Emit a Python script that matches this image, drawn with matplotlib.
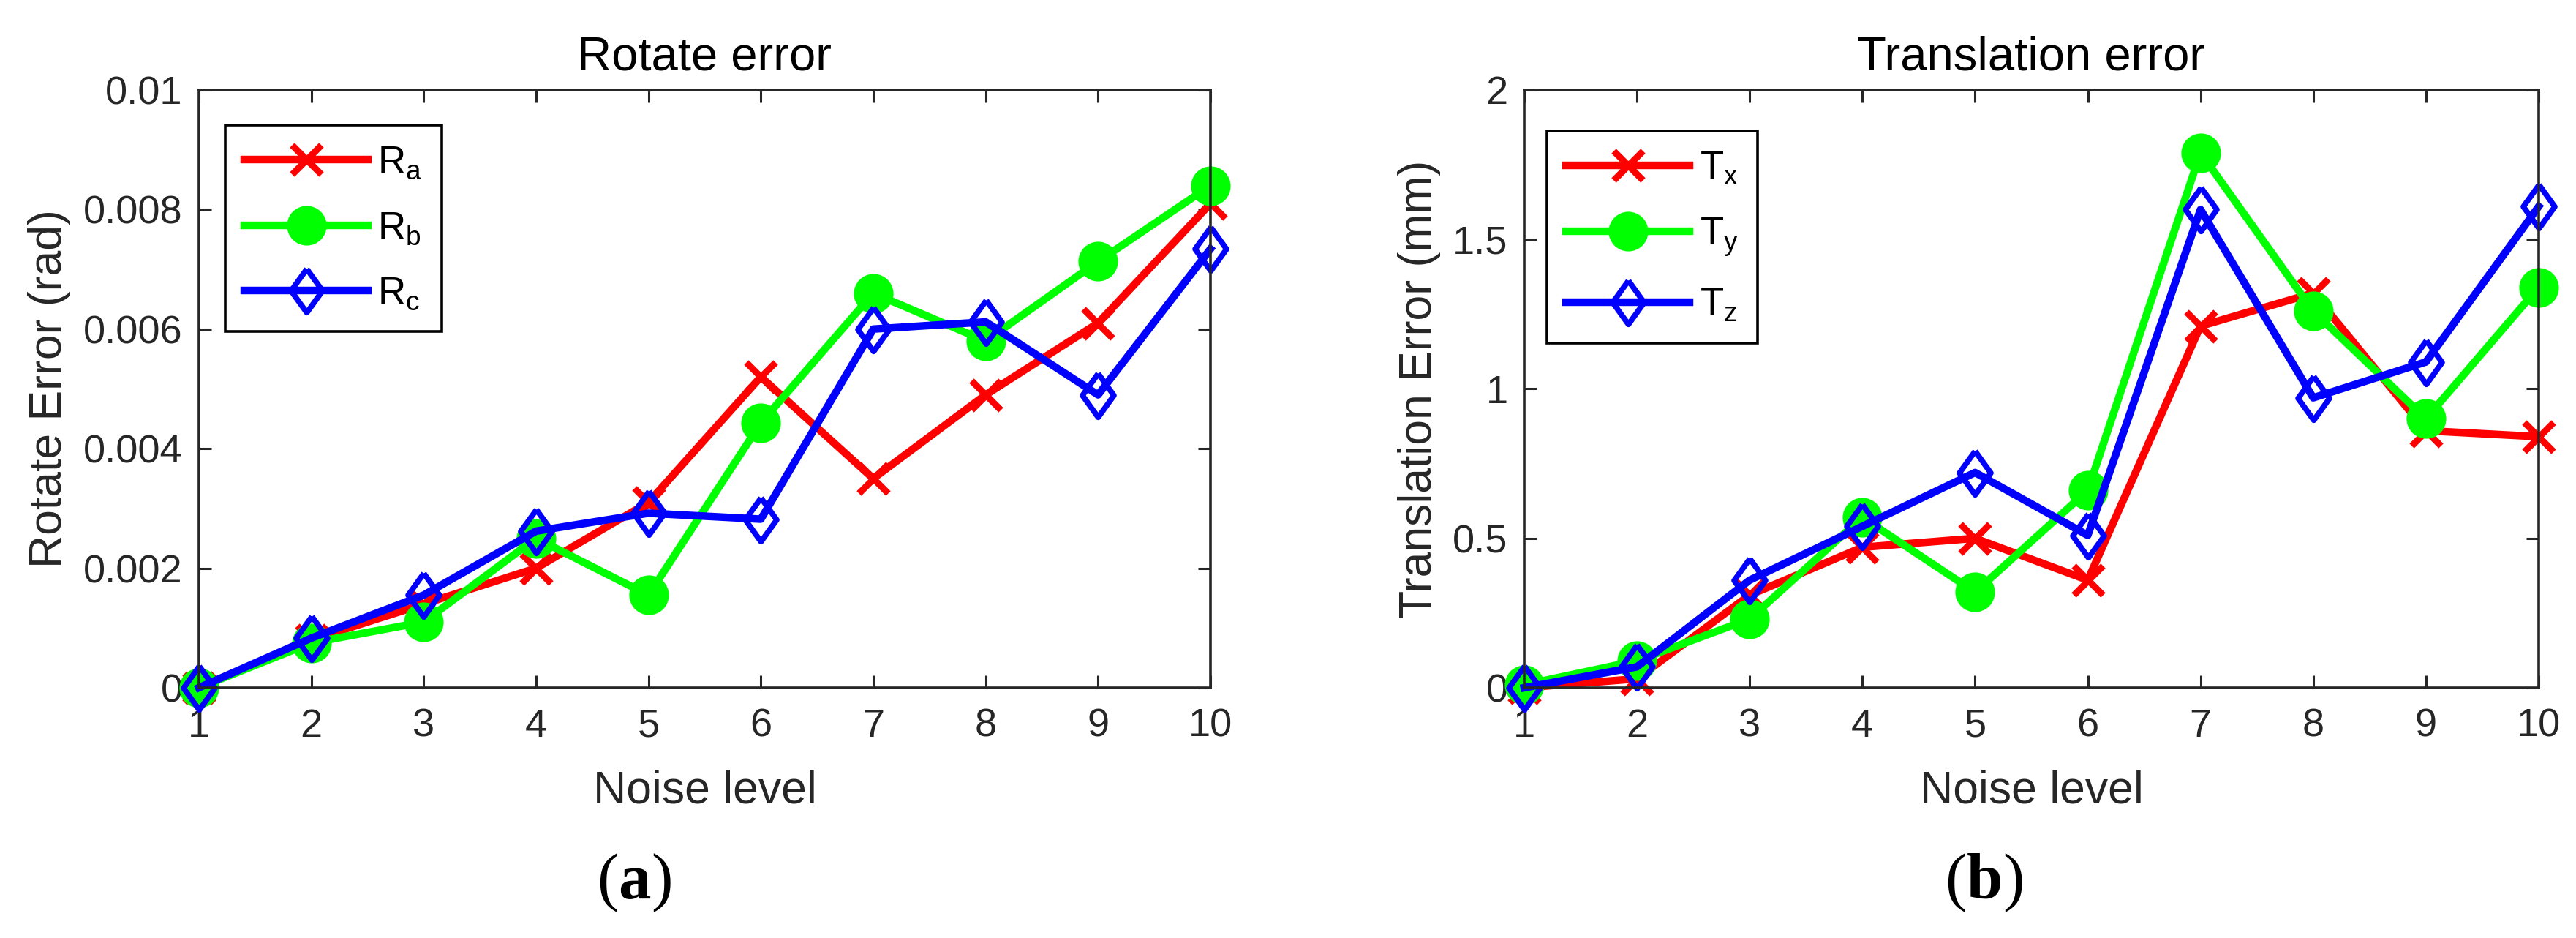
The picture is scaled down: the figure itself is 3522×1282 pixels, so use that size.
import matplotlib
matplotlib.use("Agg")
import matplotlib.pyplot as plt

plt.rcParams['font.family'] = ['Liberation Sans', 'DejaVu Sans']
plt.rcParams['mathtext.fontset'] = 'custom'
plt.rcParams['mathtext.rm'] = 'Liberation Sans'
plt.rcParams['mathtext.it'] = 'Liberation Sans:italic'
plt.rcParams['mathtext.bf'] = 'Liberation Serif:bold'

noise = [1, 2, 3, 4, 5, 6, 7, 8, 9, 10]

# rotate error (rad)
r_a = [0.0, 0.0008, 0.0014, 0.0020, 0.0031, 0.0052, 0.0035, 0.0049, 0.0061, 0.0081]
r_b = [0.0, 0.00075, 0.0011, 0.0025, 0.00155, 0.00443, 0.0066, 0.0058, 0.00713, 0.0084]
r_c = [0.0, 0.00083, 0.00155, 0.00262, 0.00292, 0.00282, 0.0060, 0.00612, 0.0049, 0.00734]

# translation error (mm)
t_x = [0.0, 0.03, 0.31, 0.47, 0.50, 0.36, 1.21, 1.32, 0.86, 0.84]
t_y = [0.01, 0.09, 0.23, 0.57, 0.32, 0.66, 1.79, 1.26, 0.90, 1.34]
t_z = [0.0, 0.07, 0.36, 0.54, 0.72, 0.51, 1.60, 0.97, 1.09, 1.61]

rot_ticks = [0, 0.002, 0.004, 0.006, 0.008, 0.01]
rot_ticklabels = ['0', '0.002', '0.004', '0.006', '0.008', '0.01']
tr_ticks = [0, 0.5, 1, 1.5, 2]
tr_ticklabels = ['0', '0.5', '1', '1.5', '2']

dark = '#262626'
diamond = [(0, 1), (0.72, 0), (0, -1), (-0.72, 0), (0, 1)]
styles = [
    dict(color='#ff0000', marker='x', ms=29, mew=6.5),
    dict(color='#00ff00', marker='o', ms=37, mew=2),
    dict(color='#0000ff', marker=diamond, ms=43, mew=5.5, mfc='none'),
]

fig = plt.figure(figsize=(35.22, 12.82), dpi=100)
ax1 = fig.add_axes([0.0772, 0.2668, 0.3927, 0.6373])
ax2 = fig.add_axes([0.5917, 0.2668, 0.3938, 0.6373])


def draw(ax, series, labels, ticks, ticklabels, ymax, title, ylabel, anchor):
    for vals, lab, st in zip(series, labels, styles):
        ax.plot(noise, vals, lw=7.5, label=lab, clip_on=False, **st)
    ax.set_xlim(1, 10)
    ax.set_ylim(0, ymax)
    ax.set_xticks(noise)
    ax.set_yticks(ticks)
    ax.set_yticklabels(ticklabels)
    ax.tick_params(direction='in', length=12, width=2.2, colors=dark,
                   labelsize=39, top=True, right=True)
    ax.tick_params(axis='x', pad=20)
    ax.tick_params(axis='y', pad=16)
    for s in ax.spines.values():
        s.set_linewidth(2.6)
        s.set_color(dark)
    ax.set_title(title, fontsize=47, color='black', pad=20)
    ax.set_xlabel('Noise level', fontsize=45, color=dark, labelpad=24)
    ax.set_ylabel(ylabel, fontsize=45, color=dark, labelpad=12)
    leg = ax.legend(loc='upper left', bbox_to_anchor=anchor, borderaxespad=0,
                    fontsize=38, handlelength=3.2, handletextpad=0.25,
                    labelspacing=0.75, borderpad=0.5, fancybox=False,
                    framealpha=1, edgecolor='black')
    leg.get_frame().set_linewidth(2.6)


draw(ax1, [r_a, r_b, r_c], [r'R$_\mathrm{a}$', r'R$_\mathrm{b}$', r'R$_\mathrm{c}$'],
     rot_ticks, rot_ticklabels, 0.01, 'Rotate error', 'Rotate Error (rad)', (0.026, 0.941))
draw(ax2, [t_x, t_y, t_z], [r'T$_\mathrm{x}$', r'T$_\mathrm{y}$', r'T$_\mathrm{z}$'],
     tr_ticks, tr_ticklabels, 2, 'Translation error', 'Translation Error (mm)', (0.0224, 0.931))

fig.text(867 / 3522, 1 - 1207 / 1282, '(' + r'$\mathbf{a}$' + ')', ha='center', va='center',
         fontsize=64, family='Liberation Serif')
fig.text(2712 / 3522, 1 - 1207 / 1282, '(' + r'$\mathbf{b}$' + ')', ha='center', va='center',
         fontsize=64, family='Liberation Serif')

fig.savefig('out.png', dpi=100)
